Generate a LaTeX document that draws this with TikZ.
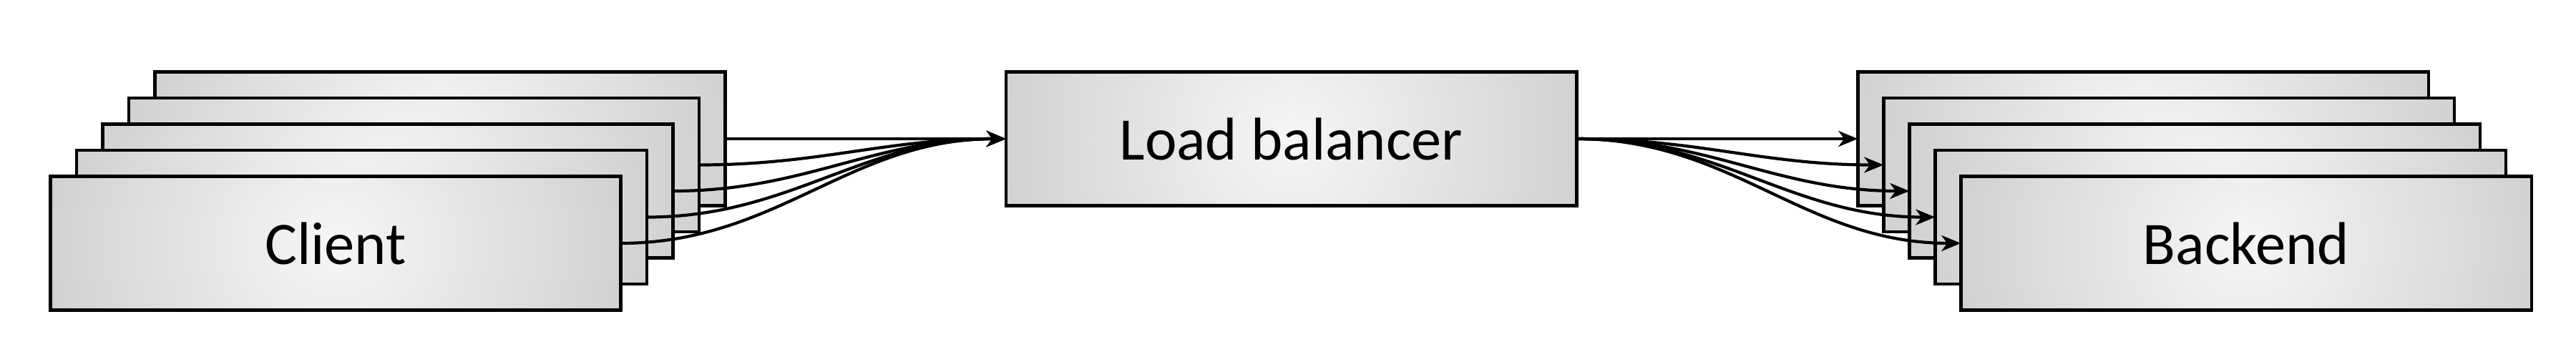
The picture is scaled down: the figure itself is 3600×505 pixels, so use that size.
\documentclass[tikz,border=0pt]{standalone}
\usepackage{fontspec}
\setmainfont{Carlito}
\usetikzlibrary{arrows.meta}
\definecolor{shadein}{HTML}{F6F6F6}
\definecolor{shadeout}{HTML}{B2B2B2}
\pgfdeclareradialshading{boxshade}{\pgfpoint{0bp}{0bp}}{color(0bp)=(shadein); color(35bp)=(shadeout); color(50bp)=(shadeout)}
\tikzset{
  unitbox/.style={rectangle, draw=black, line width=0.045cm, inner sep=0pt, outer sep=0pt,
    minimum width=7.97cm, minimum height=1.87cm,
    font=\fontsize{24pt}{28pt}\selectfont,
    path picture={\shade[shading=boxshade] (path picture bounding box.center) circle (5.4cm);}},
  conn/.style={line width=0.042cm, -{Stealth[length=0.27cm, width=0.22cm, inset=0.08cm]}}
}
\begin{document}
\begin{tikzpicture}[x=0.01cm, y=-0.01cm]
\useasboundingbox (0,0) rectangle (3600,505);
% clients, back to front
\node[unitbox] (c5) at (615,194) {};
\node[unitbox] (c4) at (578.5,230.5) {};
\node[unitbox] (c3) at (542,267) {};
\node[unitbox] (c2) at (505.5,303.5) {};
\node[unitbox] (c1) at (469,340) {Client};
% load balancer
\node[unitbox] (lb) at (1804.5,194) {Load balancer};
% backends, back to front
\node[unitbox] (b1) at (2995,194) {};
\node[unitbox] (b2) at (3031,230.5) {};
\node[unitbox] (b3) at (3067,267) {};
\node[unitbox] (b4) at (3103,303.5) {};
\node[unitbox] (b5) at (3139,340) {Backend};
% connectors
\foreach \c in {c5,c4,c3,c2,c1}
  \draw[conn] (\c.east) to[out=0,in=180] (lb.west);
\foreach \b in {b1,b2,b3,b4,b5}
  \draw[conn] (lb.east) to[out=0,in=180] (\b.west);
\end{tikzpicture}
\end{document}
